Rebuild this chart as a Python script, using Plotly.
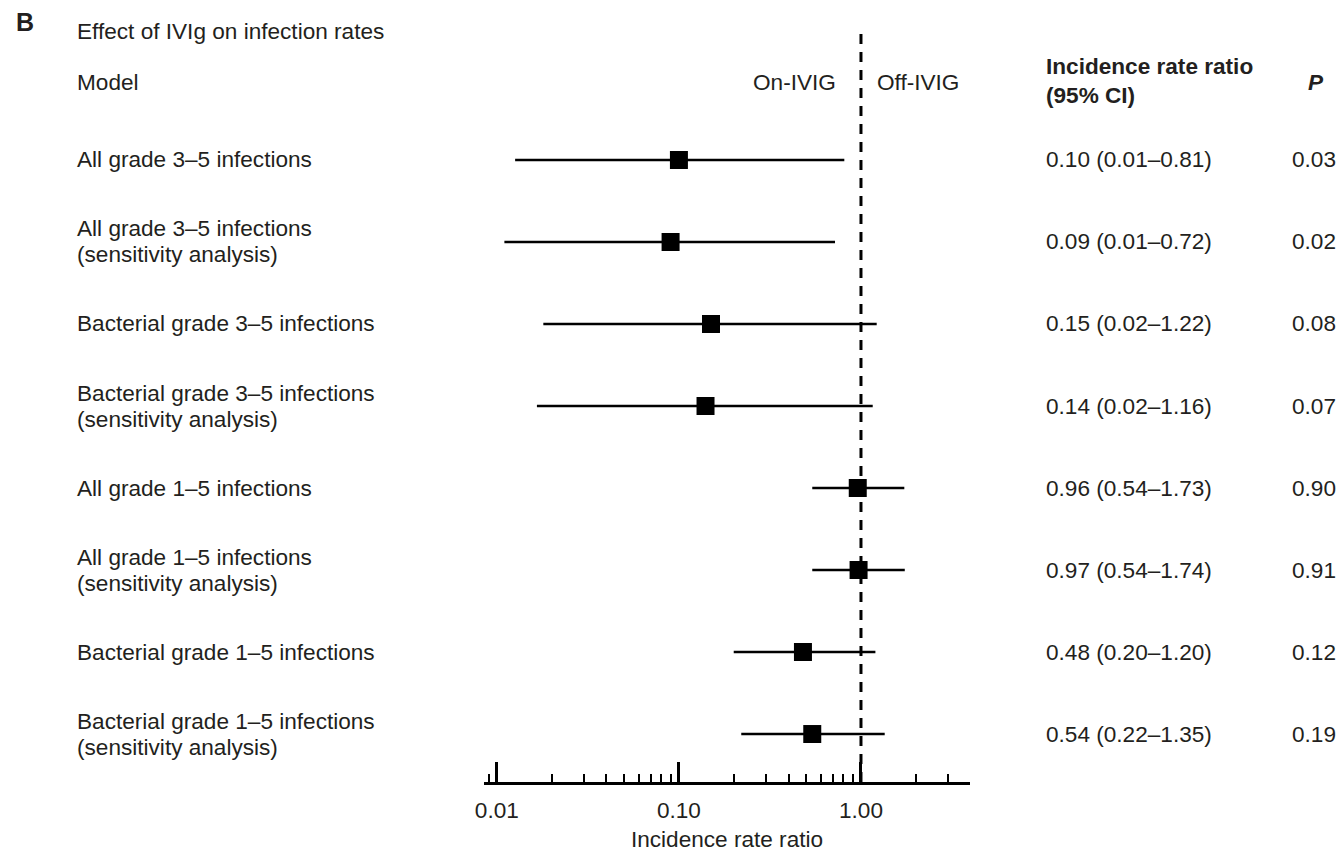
import math
import plotly.graph_objects as go

# ---------------- data ----------------
labels = [
    ["All grade 3–5 infections"],
    ["All grade 3–5 infections", "(sensitivity analysis)"],
    ["Bacterial grade 3–5 infections"],
    ["Bacterial grade 3–5 infections", "(sensitivity analysis)"],
    ["All grade 1–5 infections"],
    ["All grade 1–5 infections", "(sensitivity analysis)"],
    ["Bacterial grade 1–5 infections"],
    ["Bacterial grade 1–5 infections", "(sensitivity analysis)"],
]
irr = [0.10, 0.09, 0.15, 0.14, 0.96, 0.97, 0.48, 0.54]
ci_low = [0.0126, 0.011, 0.018, 0.0166, 0.54, 0.54, 0.20, 0.22]
ci_high = [0.81, 0.72, 1.22, 1.16, 1.73, 1.74, 1.20, 1.35]
p_values = ["0.03", "0.02", "0.08", "0.07", "0.90", "0.91", "0.12", "0.19"]

major_ticks = [0.01, 0.1, 1.0]
major_text = ["0.01", "0.10", "1.00"]
minor_ticks = [0.009, 0.02, 0.03, 0.04, 0.05, 0.06, 0.07, 0.08, 0.09,
               0.2, 0.3, 0.4, 0.5, 0.6, 0.7, 0.8, 0.9, 2, 3]

# ---------------- layout constants ----------------
W, H = 1343, 852
L, R, T, B = 484, 373, 30, 70
PW = W - L - R
PH = H - T - B
FONT = "Liberation Sans, Arial, Helvetica, sans-serif"
TXT = "#231f20"
FS = 22.6


def px_x(px):
    return (px - L) / PW


def px_y(py):
    return (H - B - py) / PH


rows = list(range(len(irr)))

fig = go.Figure()
fig.add_trace(go.Scatter(
    x=irr, y=rows, mode="markers",
    marker=dict(symbol="square", size=18, color="black"),
    error_x=dict(type="data", symmetric=False,
                 array=[h - e for h, e in zip(ci_high, irr)],
                 arrayminus=[e - l for e, l in zip(irr, ci_low)],
                 width=0, thickness=2.5, color="black"),
    showlegend=False, hoverinfo="skip", cliponaxis=False,
))

# reference line at 1
fig.add_shape(type="line", xref="x", yref="paper", x0=1, x1=1, y0=0, y1=1,
              line=dict(color="black", width=3, dash="10px,8px"), layer="below")

LX = 75      # left label column (pixel, incl. annotation padding)
CX = 1044    # CI column

ann = []
# row labels, CI text, p-values
for i in rows:
    lines = labels[i]
    n = len(lines)
    for k, line in enumerate(lines):
        shift = (-(k - (n - 1) / 2)) * 26
        ann.append(dict(x=px_x(LX), xref="paper", y=i, yref="y", yshift=shift,
                        text=line, xanchor="left", yanchor="middle",
                        showarrow=False, font=dict(size=FS, color=TXT, family=FONT)))
    ci_txt = f"{irr[i]:.2f} ({ci_low[i]:.2f}–{ci_high[i]:.2f})"
    ann.append(dict(x=px_x(CX), xref="paper", y=i, yref="y",
                    text=ci_txt, xanchor="left", yanchor="middle",
                    showarrow=False, font=dict(size=FS, color=TXT, family=FONT)))
    ann.append(dict(x=px_x(1338), xref="paper", y=i, yref="y",
                    text=p_values[i], xanchor="right", yanchor="middle",
                    showarrow=False, font=dict(size=FS, color=TXT, family=FONT)))

# headers
ann += [
    dict(x=px_x(14), xref="paper", y=px_y(22), yref="paper", text="<b>B</b>",
         xanchor="left", yanchor="middle", showarrow=False,
         font=dict(size=25, color=TXT, family=FONT)),
    dict(x=px_x(LX), xref="paper", y=px_y(32), yref="paper",
         text="Effect of IVIg on infection rates",
         xanchor="left", yanchor="middle", showarrow=False,
         font=dict(size=FS, color=TXT, family=FONT)),
    dict(x=px_x(LX), xref="paper", y=px_y(82), yref="paper", text="Model",
         xanchor="left", yanchor="middle", showarrow=False,
         font=dict(size=FS, color=TXT, family=FONT)),
    dict(x=px_x(838), xref="paper", y=px_y(82), yref="paper", text="On-IVIG",
         xanchor="right", yanchor="middle", showarrow=False,
         font=dict(size=FS, color=TXT, family=FONT)),
    dict(x=px_x(875), xref="paper", y=px_y(82), yref="paper", text="Off-IVIG",
         xanchor="left", yanchor="middle", showarrow=False,
         font=dict(size=FS, color=TXT, family=FONT)),
    dict(x=px_x(CX), xref="paper", y=px_y(67), yref="paper",
         text="<b>Incidence rate ratio</b>",
         xanchor="left", yanchor="middle", showarrow=False,
         font=dict(size=FS, color=TXT, family=FONT)),
    dict(x=px_x(CX), xref="paper", y=px_y(95), yref="paper",
         text="<b>(95% CI)</b>",
         xanchor="left", yanchor="middle", showarrow=False,
         font=dict(size=FS, color=TXT, family=FONT)),
    dict(x=px_x(1316), xref="paper", y=px_y(82), yref="paper",
         text="<b><i>P</i></b>",
         xanchor="center", yanchor="middle", showarrow=False,
         font=dict(size=FS, color=TXT, family=FONT)),
]

fig.update_layout(
    width=W, height=H,
    margin=dict(l=L, r=R, t=T, b=B, autoexpand=False),
    paper_bgcolor="white", plot_bgcolor="white",
    annotations=ann,
    font=dict(family=FONT, color=TXT),
    xaxis=dict(
        type="log",
        range=[math.log10(0.0085), math.log10(3.97)],
        tickvals=major_ticks, ticktext=major_text,
        ticks="inside", ticklen=20, tickwidth=3, tickcolor="black",
        ticklabelstandoff=6,
        showline=True, linewidth=2.5, linecolor="black",
        showgrid=False, zeroline=False,
        tickfont=dict(size=FS, color=TXT, family=FONT),
        minor=dict(tickvals=minor_ticks, ticks="inside", ticklen=8,
                   tickwidth=1.5, tickcolor="black", showgrid=False),
        title=dict(text="Incidence rate ratio", standoff=24,
                   font=dict(size=FS, color=TXT, family=FONT)),
        fixedrange=True,
    ),
    yaxis=dict(range=[7.585, -1.585], visible=False, fixedrange=True),
)

fig.write_html("out.html")
